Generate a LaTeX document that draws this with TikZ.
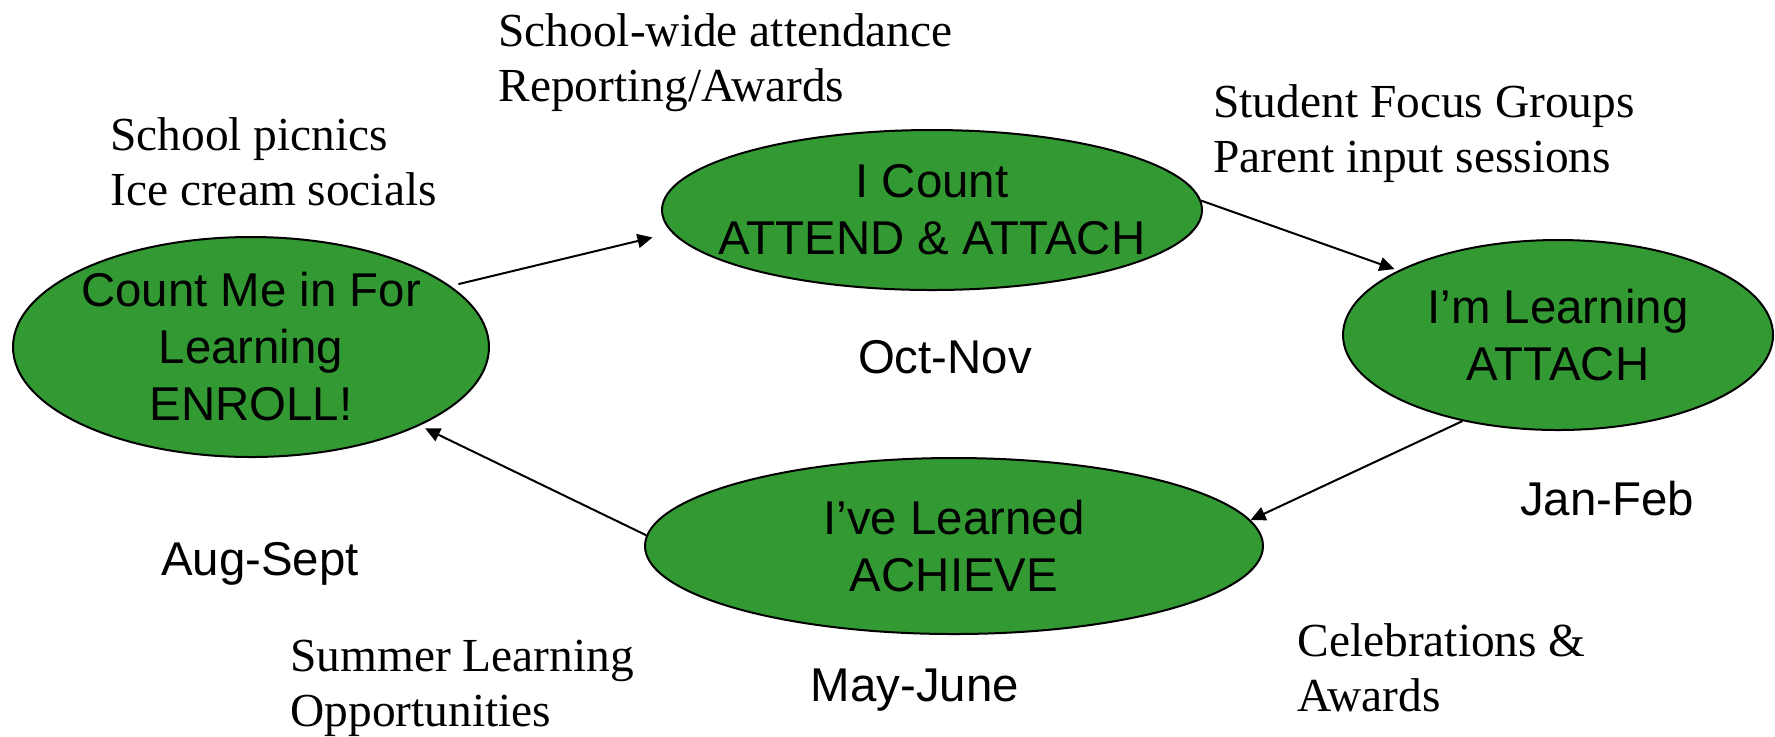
\documentclass[tikz,border=0pt]{standalone}
\usepackage{fontspec}
\setmainfont{Liberation Serif}
\setsansfont{Liberation Sans}
\usepackage{tikz}
\usetikzlibrary{shapes.geometric}
\usetikzlibrary{arrows.meta}
\tikzset{>={Triangle[width=7pt,length=7.5pt]}}
\definecolor{phasegreen}{HTML}{339933}
\tikzset{
  phase/.style={ellipse, draw=black, line width=1pt, fill=phasegreen,
    inner xsep=-20pt, inner ysep=-6pt, align=center,
    font=\sffamily\fontsize{23.7}{28.5}\selectfont},
  month/.style={inner sep=0pt, anchor=base,
    font=\sffamily\fontsize{23.7}{28.5}\selectfont},
  event/.style={inner sep=0pt, anchor=west, align=left,
    font=\rmfamily\fontsize{23.7}{27.5}\selectfont},
  link/.style={->, line width=1pt},
}

\begin{document}
\begin{tikzpicture}[x=0.5pt, y=-0.5pt]

  \useasboundingbox (0,0) rectangle (1775,736); %% page size

  %% the four phases
  \node[phase, minimum width=238pt, minimum height=110pt] (enroll)
    at (251,347) {Count Me in For\\Learning\\ENROLL!};
  \node[phase, minimum width=270pt, minimum height=80pt] (attend)
    at (932,210) {I Count\\ATTEND \& ATTACH};
  \node[phase, minimum width=215pt, minimum height=95pt] (attach)
    at (1558,335) {I’m Learning\\ATTACH};
  \node[phase, minimum width=309pt, minimum height=88pt] (achieve)
    at (954,546) {I’ve Learned\\ACHIEVE};

  %% months
  \node[month] (augsept) at (260,575) {Aug-Sept};
  \node[month] (octnov)  at (945,373) {Oct-Nov};
  \node[month] (janfeb)  at (1607,515) {Jan-Feb};
  \node[month] (mayjune) at (915,701) {May-June};

  %% activities
  \node[event] (picnics)  at (110,162)  {School picnics\\Ice cream socials};
  \node[event] (awards)   at (498,63)   {School-wide attendance\\Reporting/Awards};
  \node[event] (groups)   at (1213,134) {Student Focus Groups\\Parent input sessions};
  \node[event] (summer)   at (290,688)  {Summer Learning\\Opportunities};
  \node[event] (celebr)   at (1297,668) {Celebrations \&\\Awards};

  %% cycle
  \draw[link, shorten <=4pt, shorten >=10pt] (enroll.17) -- (attend.185);
  \draw[link, shorten >=2pt] (attend.2) -- (attach.158);
  \draw[link] (attach.222) -- (achieve.5);
  \draw[link, shorten >=3pt] (achieve.178) -- (enroll.335);

\end{tikzpicture}
\end{document}
